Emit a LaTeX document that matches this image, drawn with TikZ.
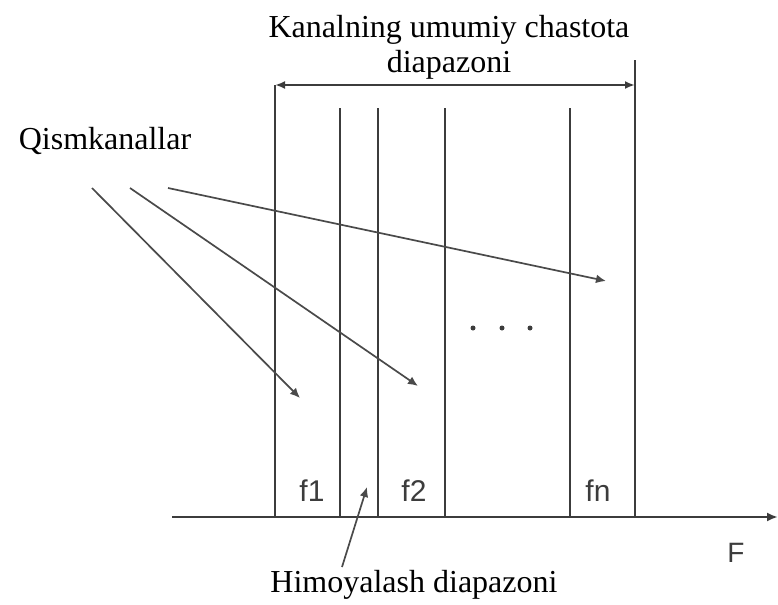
\documentclass[tikz,border=0pt]{standalone}
\usepackage{fontspec}
\setmainfont{Liberation Serif}
\newfontfamily\axfont{Liberation Sans}
\usetikzlibrary{positioning, arrows.meta}
\definecolor{lineGray}{HTML}{3C3C3C}
\definecolor{arrGray}{HTML}{4A4A4A}

\begin{document}
\begin{tikzpicture}[
        x=0.5pt, y=-0.5pt,
        every node/.style={inner sep=0pt},
        band/.style={draw=lineGray, line width=1.2pt},
        ptr/.style={draw=arrGray, line width=0.85pt, -{Latex[length=5pt, width=4.4pt]}},
        dimarr/.style={draw=lineGray, line width=1pt, {Latex[length=5pt, width=4pt]}-{Latex[length=5pt, width=4pt]}},
        lbl/.style={font=\fontsize{16}{17.5}\selectfont, align=center},
        fq/.style={font=\axfont\fontsize{15}{17}\selectfont, text=lineGray},
      ]
        \useasboundingbox (0,0) rectangle (778,605);

        % band edges
        \draw[band] (275,85) -- (275,517);
        \draw[band] (635,60) -- (635,517);
        \foreach \xx in {340,378,445,570}
          \draw[band] (\xx,108) -- (\xx,517);

        % frequency axis
        \coordinate (ax0) at (172,517);
        \coordinate (ax1) at (778,517);
        \draw[band, -{Latex[length=5.5pt, width=4.5pt]}] (ax0) -- (ax1);
        \node[fq, font=\axfont\fontsize{14}{16}\selectfont] (F) at (736,553) {F};

        % overall range
        \coordinate (lb) at (275,85);
        \coordinate (rb) at (635,85);
        \draw[dimarr] (lb) -- (rb);
        \node[lbl] (title) at (449,47) {Kanalning umumiy chastota\\diapazoni};

        \node[fq] (f1) at (312,491) {f1};
        \node[fq] (f2) at (414,491) {f2};
        \node[fq] (fn) at (598,491) {fn};
        \foreach \xx in {473,502,530}
          \fill[lineGray] (\xx,328) circle (2.5);

        % sub-channels
        \node[lbl] (qism) at (105,141) {Qismkanallar};
        \coordinate (s1) at (92,188);
        \coordinate (s2) at (130,188);
        \coordinate (s3) at (168,188);
        \coordinate (c1) at (300,398);
        \coordinate (c2) at (418,386);
        \coordinate (cn) at (606,281);
        \draw[ptr] (s1) -- (c1);
        \draw[ptr] (s2) -- (c2);
        \draw[ptr] (s3) -- (cn);

        % guard band
        \node[lbl] (him) at (414,585) {Himoyalash diapazoni};
        \coordinate (g0) at (342,567);
        \coordinate (g1) at (367,487);
        \draw[ptr] (g0) -- (g1);
      \end{tikzpicture}
\end{document}
